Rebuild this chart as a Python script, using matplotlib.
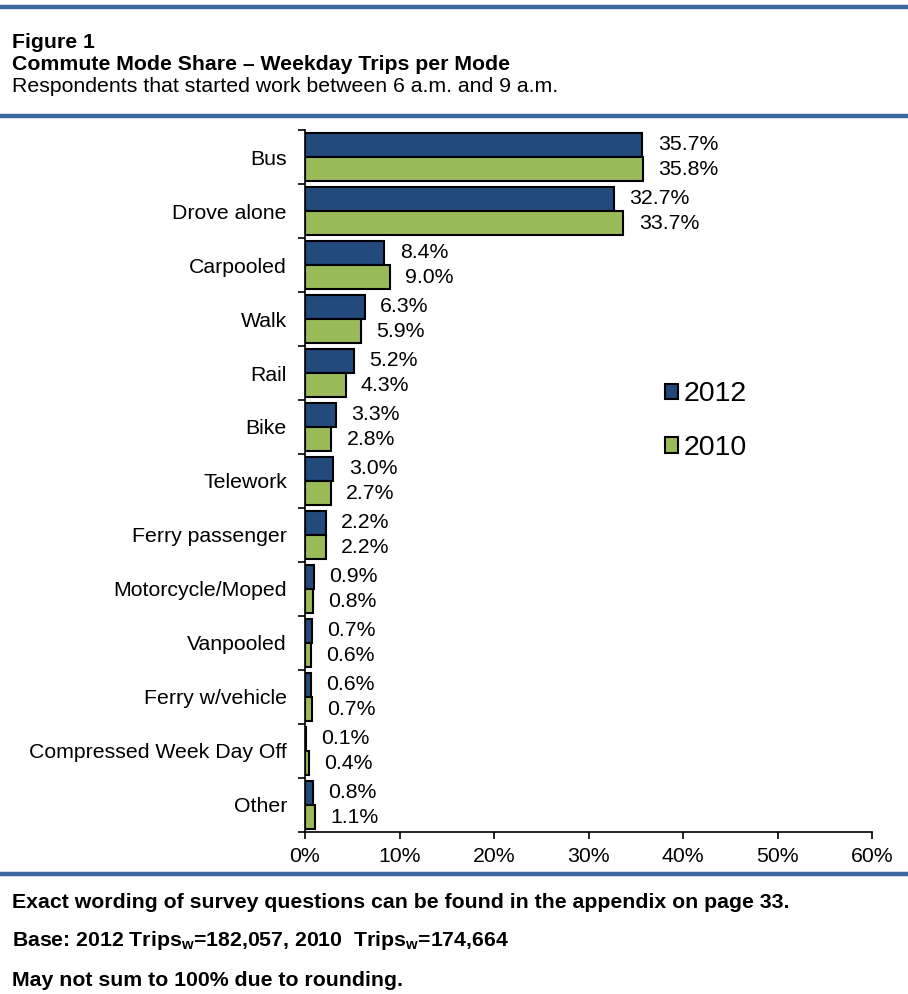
import matplotlib
matplotlib.use("Agg")
import matplotlib.pyplot as plt
import numpy as np
from matplotlib.patches import Patch
from matplotlib.lines import Line2D

plt.rcParams['font.family'] = ['Liberation Sans', 'DejaVu Sans']
plt.rcParams['mathtext.fontset'] = 'custom'
plt.rcParams['mathtext.rm'] = 'Liberation Sans:bold'
plt.rcParams['mathtext.bf'] = 'Liberation Sans:bold'

categories = ["Bus", "Drove alone", "Carpooled", "Walk", "Rail", "Bike", "Telework",
              "Ferry passenger", "Motorcycle/Moped", "Vanpooled", "Ferry w/vehicle",
              "Compressed Week Day Off", "Other"]
share_2012 = [35.7, 32.7, 8.4, 6.3, 5.2, 3.3, 3.0, 2.2, 0.9, 0.7, 0.6, 0.1, 0.8]
share_2010 = [35.8, 33.7, 9.0, 5.9, 4.3, 2.8, 2.7, 2.2, 0.8, 0.6, 0.7, 0.4, 1.1]
x_ticks = [0, 10, 20, 30, 40, 50, 60]

NAVY = "#234A7C"
GREEN = "#9BBB59"
RULE = "#3A6A9E"
FS = 15.3      # chart text
FS_HEAD = 15.3 # header and footer text

fig = plt.figure(figsize=(9.08, 9.94), dpi=100)

# horizontal rules framing the header and footer
for y in [1 - 7 / 994, 1 - 116 / 994, 1 - 874 / 994]:
    fig.add_artist(Line2D([0, 1], [y, y], transform=fig.transFigure, color=RULE, lw=3.2))

fig.text(12 / 908, 1 - 42 / 994, "Figure 1", fontsize=FS_HEAD, fontweight="bold", va="center", ha="left")
fig.text(12 / 908, 1 - 64 / 994, "Commute Mode Share \u2013 Weekday Trips per Mode", fontsize=FS_HEAD,
         fontweight="bold", va="center", ha="left")
fig.text(12 / 908, 1 - 87 / 994, "Respondents that started work between 6 a.m. and 9 a.m.",
         fontsize=FS_HEAD, va="center", ha="left")

ax = fig.add_axes([305 / 908, 1 - 832 / 994, (872 - 305) / 908, (832 - 130) / 994])

n = len(categories)
pos = np.arange(n)
h = 0.45
ax.barh(pos - h / 2, share_2012, height=h, color=NAVY, edgecolor="black", linewidth=1.5, label="2012")
ax.barh(pos + h / 2, share_2010, height=h, color=GREEN, edgecolor="black", linewidth=1.5, label="2010")

for i in range(n):
    ax.annotate(f"{share_2012[i]:.1f}%", (share_2012[i], pos[i] - h / 2), xytext=(11, 0),
                textcoords="offset points", va="center", ha="left", fontsize=FS)
    ax.annotate(f"{share_2010[i]:.1f}%", (share_2010[i], pos[i] + h / 2), xytext=(11, 0),
                textcoords="offset points", va="center", ha="left", fontsize=FS)

ax.set_ylim(n - 0.5, -0.5)
ax.set_xlim(0, 60)
ax.set_xticks(x_ticks)
ax.set_xticklabels([f"{t}%" for t in x_ticks], fontsize=FS)
ax.set_yticks(pos)
ax.set_yticklabels(categories, fontsize=FS)
ax.set_yticks(np.arange(n + 1) - 0.5, minor=True)
ax.tick_params(axis="y", which="major", length=0, pad=13)
ax.tick_params(axis="y", which="minor", length=5, width=1.2, direction="out")
ax.tick_params(axis="x", length=5, width=1.2, direction="out", pad=6)
for s in ["top", "right"]:
    ax.spines[s].set_visible(False)
for s in ["left", "bottom"]:
    ax.spines[s].set_linewidth(1.2)

handles = [Patch(facecolor=NAVY, edgecolor="black", linewidth=1.5, label="2012"),
           Patch(facecolor=GREEN, edgecolor="black", linewidth=1.5, label="2010")]
fig.legend(handles=handles, loc="upper left", bbox_to_anchor=(654 / 908, 1 - 370 / 994),
           frameon=False, fontsize=20.5, handlelength=0.45, handleheight=0.45, handletextpad=0.2,
           labelspacing=0.98, borderaxespad=0)

fig.text(12 / 908, 1 - 902 / 994,
         "Exact wording of survey questions can be found in the appendix on page 33.",
         fontsize=FS_HEAD, fontweight="bold", va="center", ha="left")
fig.text(12 / 908, 1 - 940 / 994,
         r"Base: 2012 Trips$_\mathrm{w}$=182,057, 2010  Trips$_\mathrm{w}$=174,664",
         fontsize=FS_HEAD, fontweight="bold", va="center", ha="left")
fig.text(12 / 908, 1 - 980 / 994, "May not sum to 100% due to rounding.",
         fontsize=FS_HEAD, fontweight="bold", va="center", ha="left")

fig.savefig("out.png", dpi=100)
